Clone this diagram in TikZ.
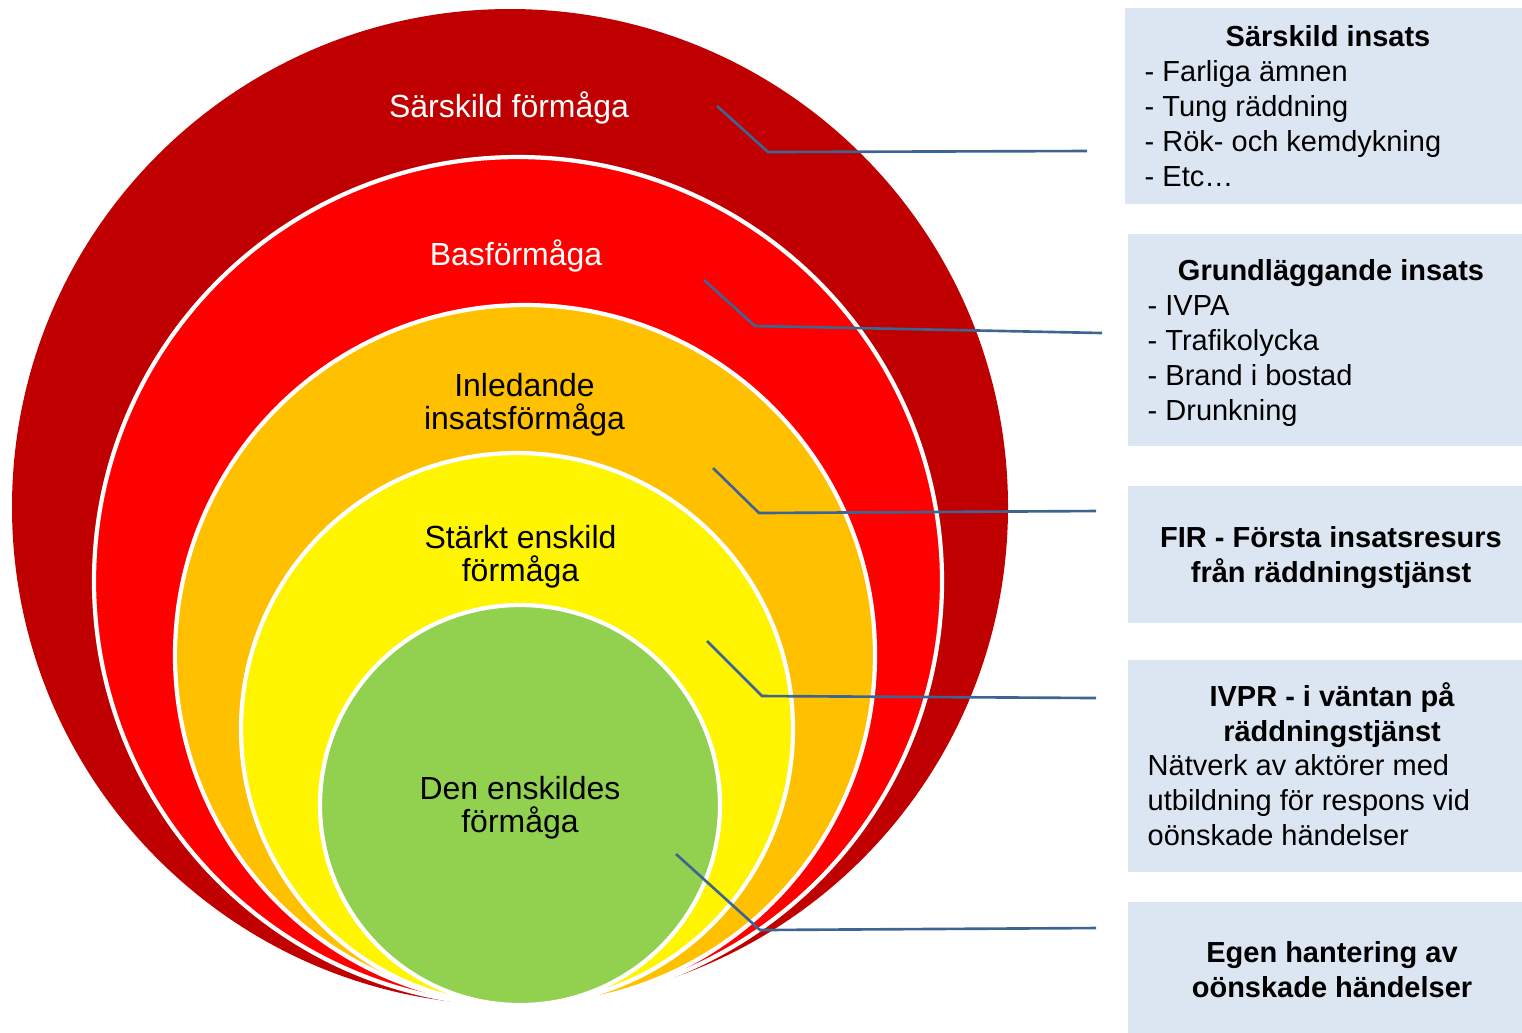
\documentclass[tikz,border=0pt]{standalone}
\usepackage{fontspec}
\setmainfont{Liberation Sans}
\usepackage{xcolor}
\usepackage{tikz}
\usetikzlibrary{calc}

\definecolor{ringdarkred}{HTML}{C00000}
\definecolor{ringred}{HTML}{FF0000}
\definecolor{ringorange}{HTML}{FFC000}
\definecolor{ringyellow}{HTML}{FFF500}
\definecolor{ringgreen}{HTML}{92D050}
\definecolor{boxblue}{HTML}{DCE6F2}
\definecolor{leaderblue}{HTML}{3E6592}

\tikzset{
    ring/.style = {draw = white, line width = 1.2pt},
    ringlabel/.style = {align = center, inner sep = 0pt, font = \fontsize{9.1}{9.4}\selectfont},
    infobox/.style = {fill = boxblue, draw = none, anchor = north west, inner sep = 0pt},
    boxtitle/.style = {align = center, inner sep = 0pt, font = \fontsize{8.25}{10.0}\selectfont\bfseries},
    boxtext/.style = {align = left, anchor = west, inner sep = 0pt, font = \fontsize{8.25}{9.96}\selectfont},
    leader/.style = {draw = leaderblue, line width = 0.75pt}
}

\begin{document}
\begin{tikzpicture}
    \useasboundingbox (+0.000, +0.000) rectangle (+15.220, -10.320);

    % Rings
    \fill[ringdarkred] (+5.100, -5.070) circle [radius = 4.980];
    %
    \filldraw[fill = ringred, ring] (+5.180, -5.810) circle [radius = 4.240];
    %
    \filldraw[fill = ringorange, ring] (+5.250, -6.550) circle [radius = 3.500];
    %
    \filldraw[fill = ringyellow, ring] (+5.170, -7.290) circle [radius = 2.760];
    %
    \filldraw[fill = ringgreen, ring] (+5.200, -8.050) circle [radius = 2.000];

    \node[ringlabel, text = white] (sarskildform) at (+5.090, -1.080) {Särskild förmåga};
    %
    \node[ringlabel, text = white] (basform) at (+5.160, -2.560) {Basförmåga};
    %
    \node[ringlabel] (inledform) at (+5.245, -4.047) {Inledande\\insatsförmåga};
    %
    \node[ringlabel] (starktform) at (+5.205, -5.567) {Stärkt enskild\\förmåga};
    %
    \node[ringlabel] (enskildform) at (+5.200, -8.077) {Den enskildes\\förmåga};

    % Boxes
    \node[infobox, minimum width = 3.980cm, minimum height = 1.960cm] (sarskildbox) at (+11.240, -0.070) {};
    %
    \node[infobox, minimum width = 3.950cm, minimum height = 2.120cm] (grundbox) at (+11.270, -2.330) {};
    %
    \node[infobox, minimum width = 3.950cm, minimum height = 1.370cm] (firbox) at (+11.270, -4.850) {};
    %
    \node[infobox, minimum width = 3.950cm, minimum height = 2.120cm] (ivprbox) at (+11.270, -6.590) {};
    %
    \node[infobox, minimum width = 3.950cm, minimum height = 1.310cm] (egenbox) at (+11.270, -9.010) {};

    \node[boxtitle] (sarskildtitle) at (+13.280, -0.358) {Särskild insats};
    %
    \node[boxtext] (sarskildlist) at (+11.440, -1.234) {- Farliga ämnen\\- Tung räddning\\- Rök- och kemdykning\\- Etc…};

    \node[boxtitle] (grundtitle) at (+13.310, -2.728) {Grundläggande insats};
    %
    \node[boxtext] (grundlist) at (+11.470, -3.608) {- IVPA\\- Trafikolycka\\- Brand i bostad\\- Drunkning};

    \node[boxtitle] (firtitle) at (+13.310, -5.573) {FIR - Första insatsresurs\\från räddningstjänst};

    \node[boxtitle] (ivprtitle) at (+13.320, -7.148) {IVPR - i väntan på\\räddningstjänst};
    %
    \node[boxtext] (ivprlist) at (+11.470, -7.998) {Nätverk av aktörer med\\utbildning för respons vid\\oönskade händelser};

    \node[boxtitle] (egentitle) at (+13.320, -9.693) {Egen hantering av\\oönskade händelser};

    % Leader lines
    \coordinate (lead1start) at (+7.170, -1.060);
    \coordinate (lead1bend) at (+7.680, -1.520);
    \coordinate (lead1end) at (+10.870, -1.510);
    %
    \coordinate (lead2start) at (+7.040, -2.800);
    \coordinate (lead2bend) at (+7.550, -3.260);
    \coordinate (lead2end) at (+11.020, -3.330);
    %
    \coordinate (lead3start) at (+7.130, -4.680);
    \coordinate (lead3bend) at (+7.590, -5.130);
    \coordinate (lead3end) at (+10.960, -5.110);
    %
    \coordinate (lead4start) at (+7.070, -6.410);
    \coordinate (lead4bend) at (+7.620, -6.960);
    \coordinate (lead4end) at (+10.960, -6.980);
    %
    \coordinate (lead5start) at (+6.760, -8.540);
    \coordinate (lead5bend) at (+7.600, -9.300);
    \coordinate (lead5end) at (+10.960, -9.280);

    \draw[leader] (lead1start) -- (lead1bend) -- (lead1end);
    %
    \draw[leader] (lead2start) -- (lead2bend) -- (lead2end);
    %
    \draw[leader] (lead3start) -- (lead3bend) -- (lead3end);
    %
    \draw[leader] (lead4start) -- (lead4bend) -- (lead4end);
    %
    \draw[leader] (lead5start) -- (lead5bend) -- (lead5end);
\end{tikzpicture}
\end{document}
